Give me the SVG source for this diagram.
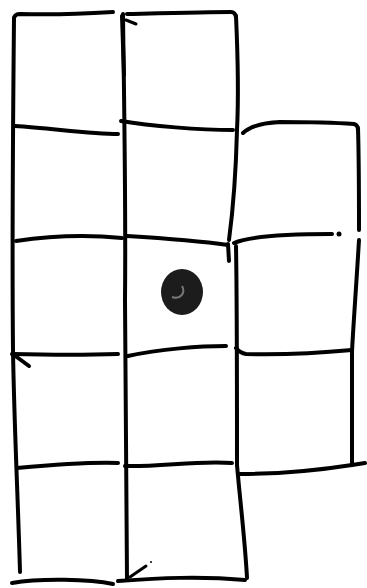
<svg xmlns="http://www.w3.org/2000/svg" width="367" height="588" viewBox="0 0 367 588">
<style>
.ln{fill:none;stroke:#000;stroke-width:4;stroke-linecap:round;stroke-linejoin:round}
.thin{stroke-width:3}
</style>
<rect width="367" height="588" fill="#fff"/>
<g id="grid">
<!-- verticals -->
<path class="ln" d="M14,18 C13,120 12,250 13,350 C14,420 18,500 20,572"/>
<path class="ln" d="M123,14 C124,100 126,200 125,300 C125,400 127,500 127,580"/>
<path class="ln" d="M122,16 L124,75"/>
<path class="ln thin" d="M126,20 L136,24"/>
<path class="ln" d="M236,16 C238,60 238,110 237,130 C236,170 233,210 229,240"/>
<path class="ln" d="M228,244 L229,261"/>
<path class="ln" d="M236,246 C237,300 237,400 237,465 C240,500 245,540 247,578"/>
<path class="ln" d="M358,128 C359,160 359,200 359,230"/>
<path class="ln" d="M359,240 C356,290 353,330 352,352 C352,400 352,440 352,465"/>
<!-- horizontals -->
<path class="ln" d="M14,18 Q15,14 20,14 C50,15 80,14 113,12"/>
<path class="ln" d="M127,14 C170,13 210,12 231,12 Q235,12 236,17"/>
<path class="ln" d="M15,126 C50,128 90,134 118,134"/>
<path class="ln" d="M121,121 C150,126 200,130 233,130"/>
<path class="ln" d="M243,133 C250,126 262,123 280,122 C310,122 340,123 354,124 Q358,125 358,130"/>
<path class="ln" d="M16,241 C50,236 90,235 122,238"/>
<path class="ln" d="M127,236 C160,238 200,241 228,245"/>
<path class="ln" d="M234,243 C250,236 290,234 332,234"/>
<circle cx="339" cy="234" r="2.5" fill="#000"/>
<path class="ln" d="M12,354 C50,355 90,355 118,354"/>
<path class="ln" d="M14,355 L29,366"/>
<path class="ln" d="M128,356 C160,349 200,346 226,346"/>
<path class="ln" d="M236,348 Q240,353 246,354 C290,355 320,353 352,350"/>
<path class="ln" d="M17,468 C50,465 90,462 118,463"/>
<path class="ln" d="M125,466 C160,467 200,460 232,463"/>
<path class="ln" d="M240,474 C280,474 320,470 352,465 L365,463"/>
<path class="ln" d="M12,583 C40,578 90,579 113,584"/>
<path class="ln" d="M118,581 C160,578 200,576 245,580"/>
<path class="ln thin" d="M130,577 L146,566"/>
<circle cx="151" cy="562" r="1" fill="#000"/>
</g>
<g id="dot">
<ellipse cx="182" cy="292" rx="21" ry="23" fill="#1c1c1c"/>
<path d="M172,297 C180,300 186,293 182,286" fill="none" stroke="#777" stroke-width="2"/>
</g>
</svg>
